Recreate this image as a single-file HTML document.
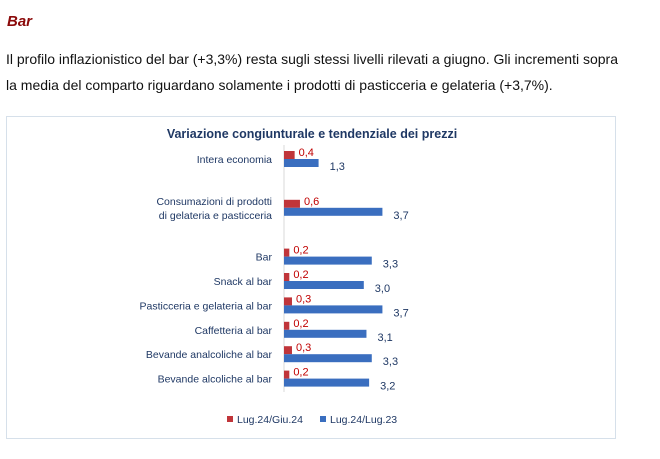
<!DOCTYPE html>
<html><head><meta charset="utf-8">
<style>
body{margin:0;width:660px;height:459px;background:#fff;overflow:hidden;position:relative;font-family:"Liberation Sans",sans-serif;}
#title{position:absolute;left:7px;top:13px;font-size:15px;font-weight:bold;font-style:italic;color:#8b0a0a;margin:0}
.p{position:absolute;left:6px;font-size:14px;color:#111;white-space:nowrap;margin:0}
#chart{position:absolute;left:6px;top:116px;width:610px;height:323px;border:1px solid #d6e0ea;box-sizing:border-box}
svg{position:absolute;left:0;top:0}
</style></head><body>
<h3 id="title">Bar</h3>
<p class="p" style="top:51px">Il profilo inflazionistico del bar (+3,3%) resta sugli stessi livelli rilevati a giugno. Gli incrementi sopra</p>
<p class="p" style="top:77px">la media del comparto riguardano solamente i prodotti di pasticceria e gelateria (+3,7%).</p>
<div id="chart"></div>
<svg id="svg" width="660" height="459"></svg>
<script>
const categories=[["Intera economia"],[],["Consumazioni di prodotti","di gelateria e pasticceria"],[],["Bar"],["Snack al bar"],["Pasticceria e gelateria al bar"],["Caffetteria al bar"],["Bevande analcoliche al bar"],["Bevande alcoliche al bar"]];
const monthly=[0.4,null,0.6,null,0.2,0.2,0.3,0.2,0.3,0.2];
const yearly=[1.3,null,3.7,null,3.3,3.0,3.7,3.1,3.3,3.2];
const seriesNames=["Lug.24/Giu.24","Lug.24/Lug.23"];
const NS="http://www.w3.org/2000/svg";
const svg=document.getElementById('svg');
const x0=284,scale=26.6,yTop=159,step=24.4,bh=8;
const xS=v=>x0+v*scale;
const yS=i=>yTop+i*step;
function mk(t,a,txt){const e=document.createElementNS(NS,t);for(const k in a)e.setAttribute(k,a[k]);if(txt!==undefined)e.textContent=txt;svg.appendChild(e);return e;}
const fmt=v=>v.toFixed(1).replace('.',',');
let t=mk('text',{x:312,y:138,'text-anchor':'middle','font-size':12.5,'font-weight':'bold',fill:'#1f3864','font-family':'Liberation Sans, sans-serif'},'Variazione congiunturale e tendenziale dei prezzi');


let ax=mk('line',{x1:x0,x2:x0,y1:145,y2:392,stroke:'#d9d9d9','stroke-width':1});


categories.forEach((c,i)=>{
  const cy=yS(i);
  c.forEach((line,j)=>{
    const lt=mk('text',{x:272,y:cy+4+(j-(c.length-1)/2)*14,'text-anchor':'end','font-size':10.5,fill:'#1f3864','font-family':'Liberation Sans, sans-serif'},line);
    
    
  });
  if(monthly[i]!==null){
    const r=mk('rect',{x:x0,y:cy-bh,width:xS(monthly[i])-x0,height:bh,fill:'#c0353a'});
    
    
    const l=mk('text',{x:xS(monthly[i])+4,y:cy-3,'font-size':11,fill:'#c00000','font-family':'Liberation Sans, sans-serif'},fmt(monthly[i]));
    
    
  }
  if(yearly[i]!==null){
    const r=mk('rect',{x:x0,y:cy,width:xS(yearly[i])-x0,height:bh,fill:'#3a6ebf'});
    
    
    const l=mk('text',{x:xS(yearly[i])+11,y:cy+11,'font-size':11,fill:'#1f3864','font-family':'Liberation Sans, sans-serif'},fmt(yearly[i]));
    
    
  }
});
const lx=[227,320],lc=['#c0353a','#3a6ebf'];
seriesNames.forEach((n,i)=>{
  const s=mk('rect',{x:lx[i],y:416,width:6,height:6,fill:lc[i]});
  
  
  const tt=mk('text',{x:lx[i]+10,y:423,'font-size':10.5,fill:'#1f3864','font-family':'Liberation Sans, sans-serif'},n);
  
  
});
</script>
</body></html>
